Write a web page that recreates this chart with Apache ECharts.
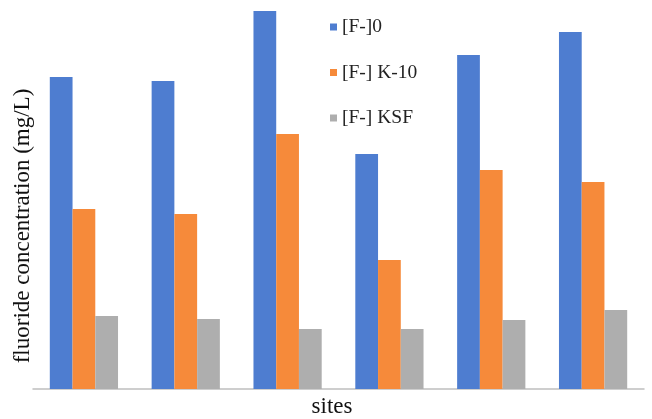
<!DOCTYPE html>
<html>
<head>
<meta charset="utf-8">
<script src="https://cdn.jsdelivr.net/npm/echarts@6/dist/echarts.min.js"></script>
<style>
  html, body { margin: 0; padding: 0; background: #fff; }
  #chart { width: 652px; height: 419px; }
</style>
</head>
<body>
<div id="chart"></div>
<script>
// Fluoride concentration per site (mg/L)
const sites = ['1', '2', '3', '4', '5', '6'];
const seriesNames = ['[F-]0', '[F-] K-10', '[F-] KSF'];
const fluoride0 = [3.12, 3.08, 3.78, 2.35, 3.34, 3.57];
const fluorideK10 = [1.80, 1.75, 2.55, 1.29, 2.19, 2.07];
const fluorideKSF = [0.73, 0.70, 0.60, 0.60, 0.69, 0.79];
const colors = ['#4E7DD0', '#F68A3A', '#AEAEAE'];

const serif = '"Liberation Serif", "Times New Roman", serif';
const chart = echarts.init(document.getElementById('chart'), null, { renderer: 'canvas' });

const values = [fluoride0, fluorideK10, fluorideKSF];

chart.setOption({
  animation: false,
  color: colors,
  grid: { left: 33, right: 8, top: 0, bottom: 30 },
  legend: {
    orient: 'vertical',
    left: 325,
    top: 12,
    itemWidth: 7,
    itemHeight: 7,
    itemGap: 25.5,
    icon: 'rect',
    textStyle: { fontFamily: serif, fontSize: 19.5, color: '#222' },
    data: seriesNames
  },
  xAxis: {
    type: 'category',
    data: sites,
    axisLine: { lineStyle: { color: '#BFBFBF', width: 1.5 } },
    axisTick: { show: false },
    axisLabel: { show: false }
  },
  yAxis: {
    type: 'value',
    min: 0,
    max: 3.89,
    axisLine: { show: false },
    axisTick: { show: false },
    axisLabel: { show: false },
    splitLine: { show: false }
  },
  series: seriesNames.map((name, i) => ({
    name: name,
    type: 'bar',
    data: values[i],
    barGap: '0%',
    barCategoryGap: '33%',
    itemStyle: { color: colors[i] }
  })),
  graphic: [
    {
      type: 'text',
      x: 23,
      y: 226,
      rotation: Math.PI / 2,
      style: {
        text: 'fluoride concentration (mg/L)',
        font: '23px ' + serif,
        fill: '#111',
        align: 'center',
        verticalAlign: 'middle'
      }
    },
    {
      type: 'text',
      x: 332,
      y: 407,
      style: {
        text: 'sites',
        font: '23px ' + serif,
        fill: '#111',
        align: 'center',
        verticalAlign: 'middle'
      }
    }
  ]
});
</script>
</body>
</html>
